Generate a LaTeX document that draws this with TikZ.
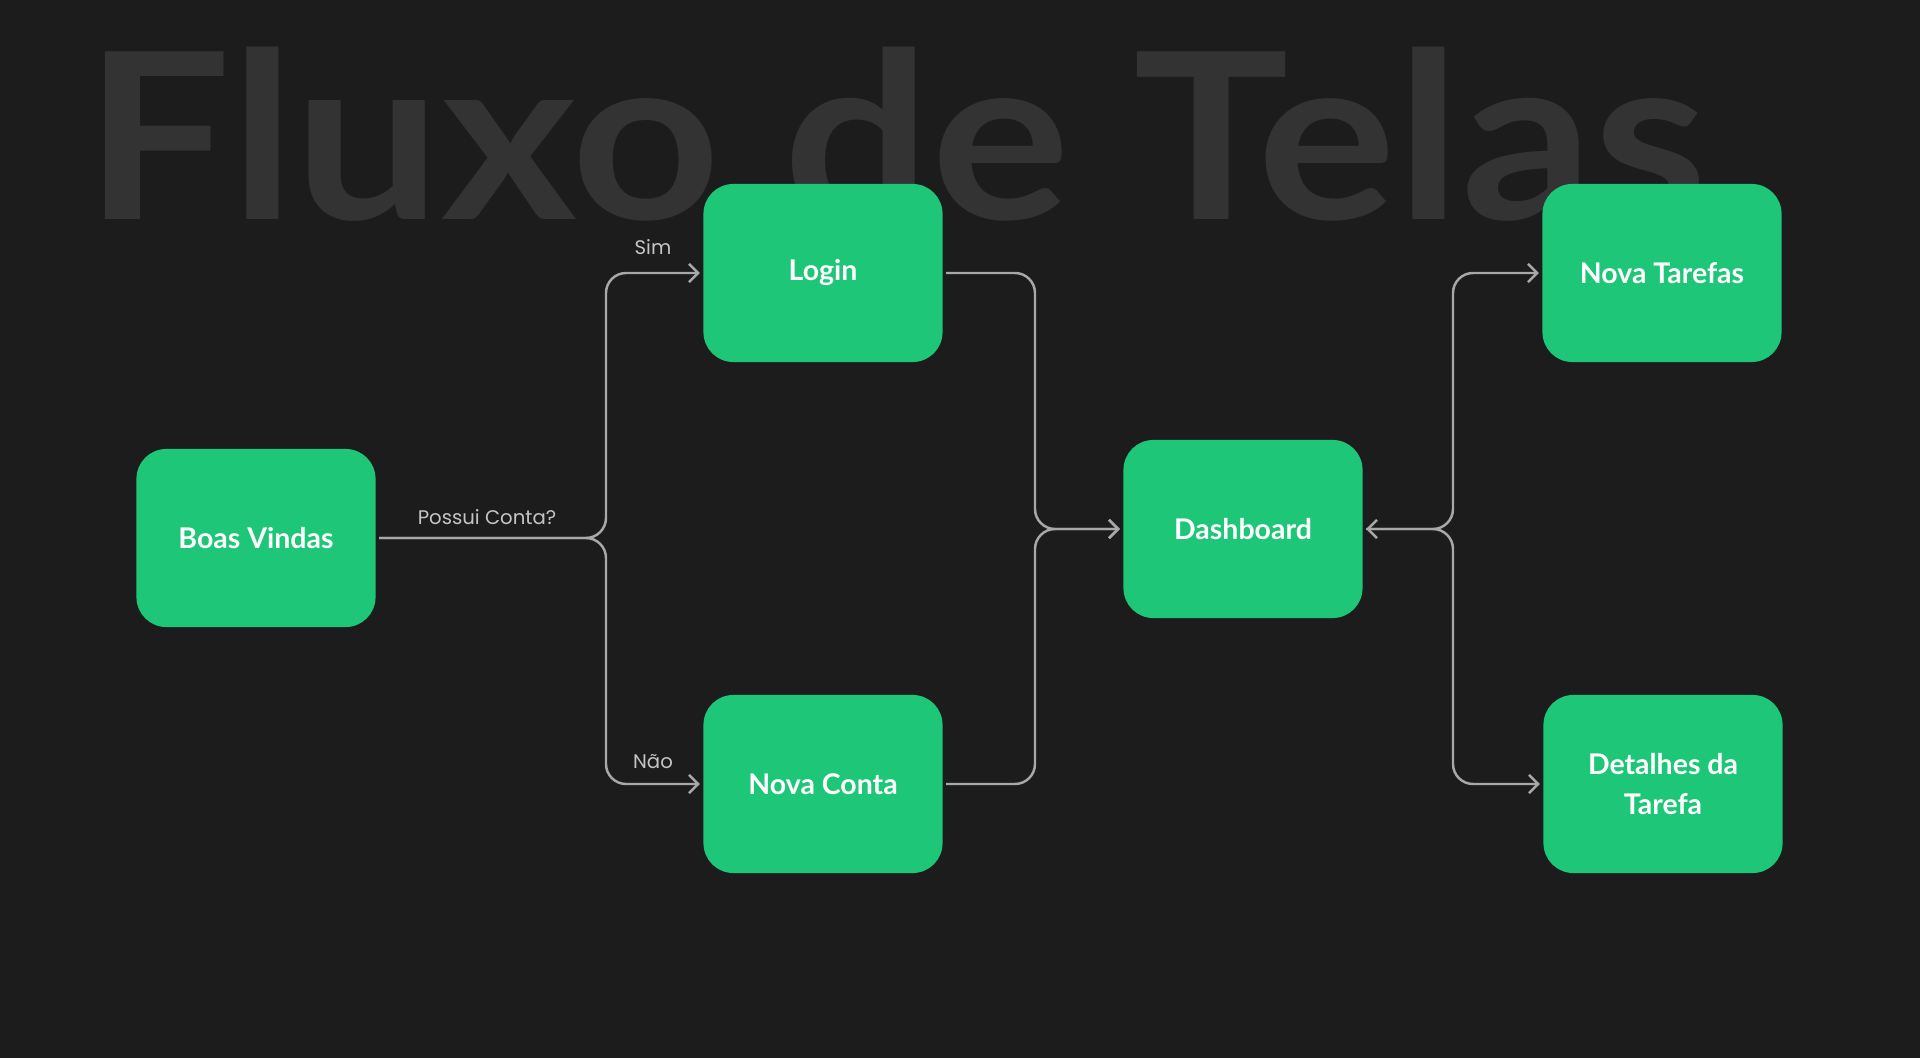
\documentclass[tikz,border=0pt]{standalone}
\usepackage{fontspec}
\setmainfont{Lato}
\newfontfamily\labelfont{Poppins}
\usetikzlibrary{arrows.meta}

\definecolor{bgdark}{HTML}{1C1C1C}
\definecolor{titlegray}{HTML}{333333}
\definecolor{screengreen}{HTML}{1EC677}
\definecolor{linegray}{HTML}{A8A8A8}
\definecolor{textgray}{HTML}{C4C4C4}

\tikzset{
    screen node/.style={rectangle,rounded corners=8.5pt,fill=screengreen,text=white,
        minimum width=2.39cm,minimum height=1.78cm,inner sep=0,outer sep=1pt,align=center,
        font=\fontsize{8.1}{11.5}\selectfont\bfseries},
    flow line/.style={draw=linegray,line width=0.7pt,rounded corners=5.7pt,
        -{Straight Barb[length=2.6pt,width=5.2pt,line width=0.7pt]}},
    flow label/.style={text=textgray,font=\labelfont\fontsize{5.6}{7}\selectfont,inner sep=0}
    }

\begin{document}
\begin{tikzpicture}[x=0.01cm,y=-0.01cm]
    % Background and title
    \useasboundingbox (0,0) rectangle (1920,1058);
    \fill[bgdark] (0,0) rectangle (1920,1058);
    \node(title)[anchor=base west,inner sep=0,xscale=1.12,text=titlegray,font=\fontsize{66}{66}\selectfont\bfseries]
        at (84,220) {Fluxo de Telas};
    % The screens
    \node(boas)[screen node] at (256,538) {Boas Vindas};
    \node(login)[screen node] at (823,273) {Login};
    \node(conta)[screen node] at (823,784) {Nova Conta};
    \node(dash)[screen node] at (1243,529) {Dashboard};
    \node(tarefa)[screen node] at (1662,273) {Nova Tarefas};
    \node(detalhe)[screen node] at (1663,784) {Detalhes da\\Tarefa};
    % Split points
    \coordinate(split1) at (606,0);
    \coordinate(split2) at (1035,0);
    \coordinate(split3) at (1453,0);
    % The flows
    \draw[flow line] (boas.east) -| (split1 |- login.west) -- (login.west);
    \draw[flow line] (boas.east) -| (split1 |- conta.west) -- (conta.west);
    \draw[flow line] (login.east) -| (split2 |- dash.west) -- (dash.west);
    \draw[flow line] (conta.east) -| (split2 |- dash.west) -- (dash.west);
    \draw[flow line,{Straight Barb[length=2.6pt,width=5.2pt,line width=0.7pt]}-{Straight Barb[length=2.6pt,width=5.2pt,line width=0.7pt]}]
        (dash.east) -| (split3 |- tarefa.west) -- (tarefa.west);
    \draw[flow line] (dash.east) -| (split3 |- detalhe.west) -- (detalhe.west);
    % Labels
    \node(possui)[flow label] at (487,517) {Possui Conta?};
    \node(sim)[flow label] at (653,247) {Sim};
    \node(nao)[flow label] at (653,762) {Não};
\end{tikzpicture}
\end{document}
